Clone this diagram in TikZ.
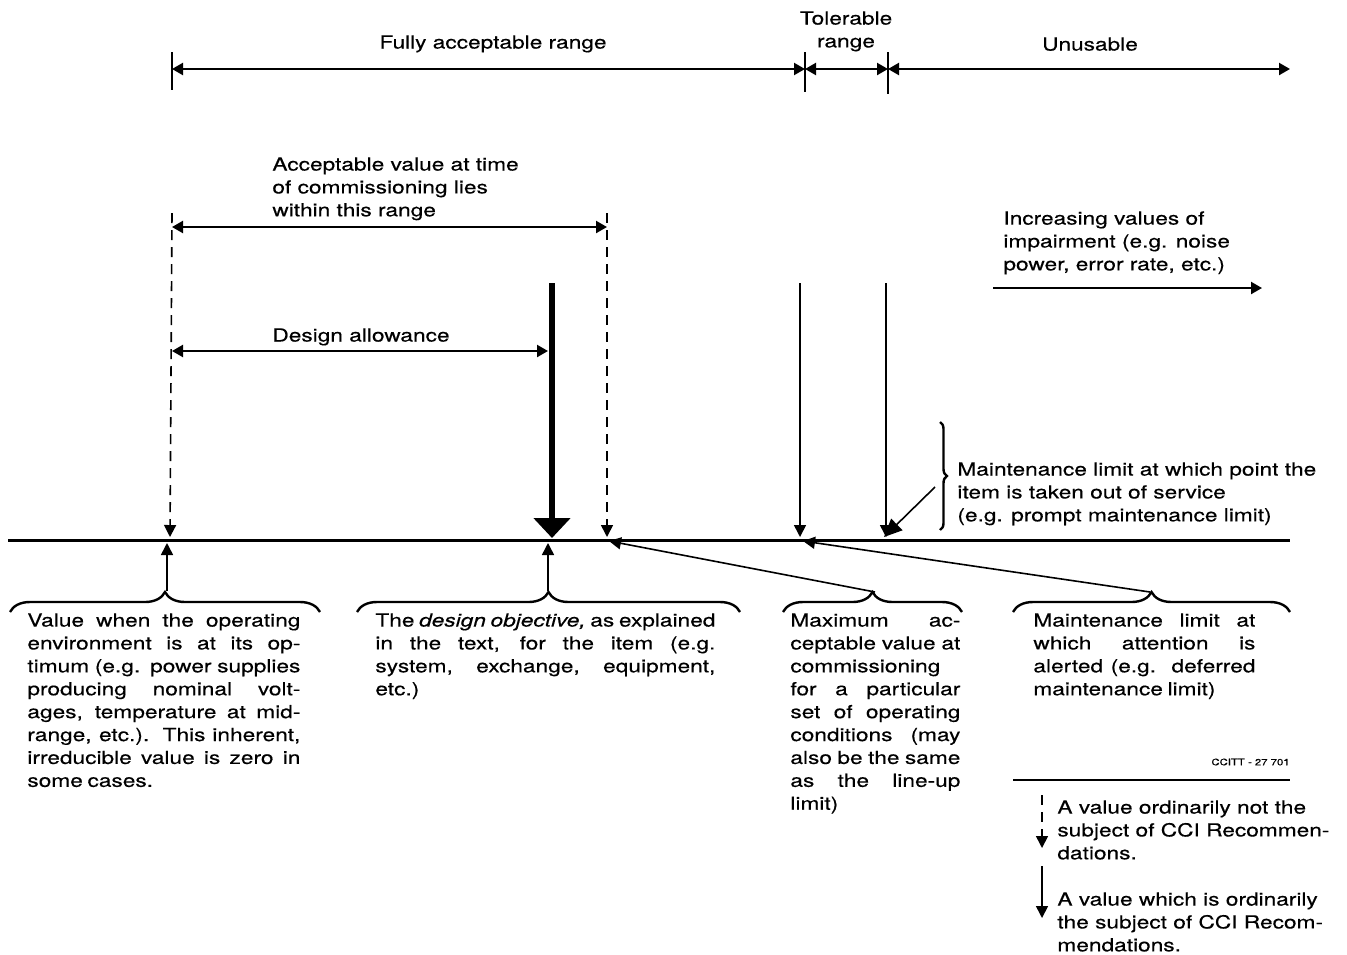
\documentclass[tikz,border=0pt]{standalone}
\usepackage{fontspec}
\setmainfont{TeX Gyre Heros}[FakeStretch=1.26,FakeBold=0.4]
\usepackage{tikz}
\usetikzlibrary{arrows.meta}
\usetikzlibrary{decorations.pathreplacing}
\usetikzlibrary{calc}
\newcommand\tightspace{\spaceskip=0.26em plus 1em minus 0.14em\relax}

\begin{document}
\begin{tikzpicture}[x=0.5pt,y=-0.5pt]
\tikzset{txt/.style={inner sep=0pt, font=\fontsize{9}{11.45}\selectfont, align=left, anchor=north west}}
\tikzset{para/.style={txt, align=justify, text width=#1, font=\fontsize{9}{11.45}\selectfont\tightspace}}
\tikzset{spanline/.style={line width=1.1pt, {Triangle[length=5.5pt,width=6pt]}-{Triangle[length=5.5pt,width=6pt]}}}
\tikzset{tick/.style={line width=0.8pt}}
\tikzset{pointer/.style={line width=0.8pt, -{Triangle[length=6pt,width=6pt]}}}
\tikzset{guide/.style={pointer, dash pattern=on 5pt off 3.5pt}}
\tikzset{heavy/.style={line width=3pt, -{Triangle[length=10pt,width=18pt]}}}
\tikzset{curly/.style={decorate, decoration={brace, amplitude=#1}, line width=1.2pt}}
\useasboundingbox (0,0) rectangle (1347,954);

\coordinate (t0) at (172,69);
\coordinate (t1) at (805,69);
\coordinate (t2) at (888,69);
\coordinate (t3) at (1290,69);
\draw[tick] (t0) ++(0,-17) -- ++(0,38);
\draw[tick] (t1) ++(0,-17) -- ++(0,40);
\draw[tick] (t2) ++(0,-17) -- ++(0,42);
\draw[spanline] (t0) -- (t1);
\draw[spanline] (t1) -- (t2);
\draw[spanline] (t2) -- (t3);
\node[txt, anchor=north] (full) at (493,35) {Fully acceptable range};
\node[txt, anchor=north, align=center] (tolerable) at (846,11) {Tolerable\\range};
\node[txt, anchor=north] (unusable) at (1090,37) {Unusable};

\coordinate (c0) at (172,227);
\coordinate (c1) at (607,227);
\coordinate (d0) at (172,351);
\coordinate (d1) at (548,351);
\draw[spanline] (c0) -- (c1);
\draw[spanline] (d0) -- (d1);
\node[txt] (commission) at (272,157) {Acceptable value at time\\of commissioning lies\\within this range};
\node[txt] (allowance) at (272,328) {Design allowance};

\coordinate (b0) at (8,540);
\coordinate (b1) at (1290,540);
\coordinate (p0) at (170,537);
\coordinate (p1) at (552,538);
\coordinate (p2) at (607,537);
\coordinate (p3) at (800,537);
\coordinate (p4) at (884,537);
\draw[line width=1.5pt] (b0) -- (b1);
\draw[guide] (172,213) -- (p0);
\draw[guide] (607,213) -- (p2);
\draw[heavy] (552,283) -- (p1);
\draw[pointer] (800,283) -- (p3);
\draw[pointer] (886,283) -- (886,537);
\draw[line width=0.8pt, -{Triangle[length=9pt,width=8pt]}] (935,487) -- (p4);

\node[txt] (increase) at (1003,211) {Increasing values of\\impairment (e.g. noise\\power, error rate, etc.)};
\draw[line width=1.1pt, -{Triangle[length=5.5pt,width=6pt]}] (993,288) -- (1262,288);

\draw[curly=3.5pt] (940,422) -- (940,530);
\node[txt] (prompt) at (957,462) {Maintenance limit at which point the\\item is taken out of service\\(e.g. prompt maintenance limit)};

\draw[curly=10pt] (10,612) -- (320,612);
\draw[curly=10pt] (357,612) -- (740,612);
\draw[curly=10pt] (783,612) -- (962,612);
\draw[curly=10pt] (1013,612) -- (1290,612);
\coordinate (v0) at (167,591);
\coordinate (v1) at (548,591);
\coordinate (v2) at (875,592);
\coordinate (v3) at (1150,592);
\draw[pointer] (v0) -- (167,543);
\draw[pointer] (v1) -- (548,543);
\draw[pointer] (v2) -- (609,541);
\draw[pointer] (v3) -- (803,541);

\node[para=136.5pt] (optimum) at (27,613) {Value when the operating\linebreak environment is at its op-\linebreak timum (e.g. power supplies\linebreak producing nominal volt-\linebreak ages, temperature at mid-\linebreak range, etc.). This inherent,\linebreak irreducible value is zero in\linebreak some cases.};
\node[para=170pt] (objective) at (375,613) {The \textit{design objective,} as explained\linebreak in the text, for the item (e.g.\linebreak system, exchange, equipment,\linebreak etc.)};
\node[para=85pt] (maximum) at (790,613) {Maximum ac-\linebreak ceptable value at\linebreak commissioning\linebreak for a particular\linebreak set of operating\linebreak conditions (may\linebreak also be the same\linebreak as the line-up\linebreak limit)};
\node[para=111pt] (deferred) at (1033,613) {Maintenance limit at\linebreak which attention is\linebreak alerted (e.g. deferred\linebreak maintenance limit)};

\node[txt, anchor=east, font=\fontsize{4.5}{5}\selectfont] (ref) at (1290,762) {CCITT - 27 701};
\draw[line width=1.1pt] (1013,780) -- (1290,780);
\draw[guide] (1042,795) -- (1042,848);
\draw[pointer] (1042,866) -- (1042,918);
\node[txt] (notsubject) at (1057,800) {A value ordinarily not the\\subject of CCI Recommen-\\dations.};
\node[txt] (subject) at (1057,892) {A value which is ordinarily\\the subject of CCI Recom-\\mendations.};
\end{tikzpicture}
\end{document}
